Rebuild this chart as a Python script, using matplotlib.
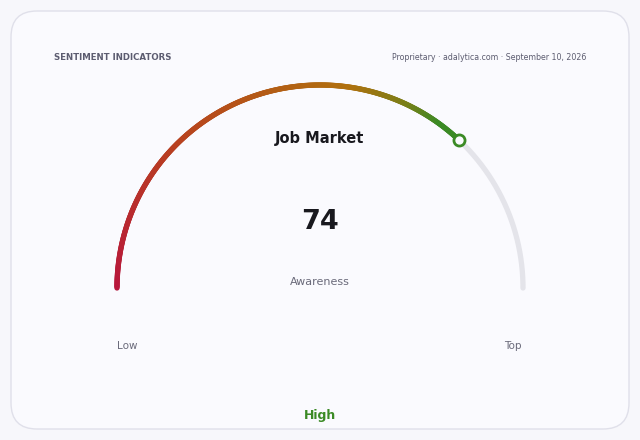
import numpy as np
import matplotlib
matplotlib.use("Agg")
import matplotlib.pyplot as plt
from matplotlib.collections import LineCollection
from matplotlib.colors import LinearSegmentedColormap
from matplotlib.patches import FancyBboxPatch

plt.rcParams["font.family"] = ["DejaVu Sans"]

# gauge data
title = "Job Market"
metric = "Awareness"
value = 74
v_min, v_max = 0, 100
end_labels = ["Low", "Top"]
band_label = "High"
header_left = "SENTIMENT INDICATORS"
header_right = "Proprietary · adalytica.com · September 10, 2026"

# layout in pixels
W, H = 640, 440
cx, cy, r = 320, 288, 203

fig = plt.figure(figsize=(W / 100, H / 100), dpi=100)
fig.patch.set_facecolor("#f7f7fb")
ax = fig.add_axes([0, 0, 1, 1])
ax.set_xlim(0, W)
ax.set_ylim(H, 0)
ax.axis("off")

card = FancyBboxPatch((11, 11), 618, 418, boxstyle="round,pad=0,rounding_size=26",
                      facecolor="#fafafe", edgecolor="#e0e0ea", linewidth=1.0)
ax.add_patch(card)

def angle_of(v):
    return np.pi * (1 - (v - v_min) / (v_max - v_min))

# background track
t = np.linspace(angle_of(v_min), angle_of(v_max), 300)
ax.plot(cx + r * np.cos(t), cy - r * np.sin(t), color="#e4e4ea",
        linewidth=3.8, solid_capstyle="round", zorder=2)

# value arc with gradient
cmap = LinearSegmentedColormap.from_list(
    "sent", [(0.0, "#b8163c"), (0.35, "#b8421f"), (0.74, "#b0700e"),
             (0.87, "#7a7f18"), (0.95, "#3b8a25"), (1.0, "#3b8a25")])
vals = np.linspace(v_min, value, 400)
ang = angle_of(vals)
xs, ys = cx + r * np.cos(ang), cy - r * np.sin(ang)
pts = np.column_stack([xs, ys]).reshape(-1, 1, 2)
segs = np.concatenate([pts[:-1], pts[1:]], axis=1)
lc = LineCollection(segs, colors=cmap(np.linspace(0, 1, len(segs))),
                    linewidth=3.8, capstyle="round", zorder=3)
ax.add_collection(lc)

ax.plot(xs[-1], ys[-1], "o", markersize=8, markerfacecolor="#fafafe",
        markeredgecolor="#3b8a25", markeredgewidth=2, zorder=4)

# texts
ax.text(54, 58, header_left, fontsize=6.2, fontweight="bold", color="#5c5c70",
        ha="left", va="center")
ax.text(586, 58, header_right, fontsize=5.7, color="#5c5c70", ha="right", va="center")
ax.text(cx, 138, title, fontsize=10.5, fontweight="bold", color="#18181e",
        ha="center", va="center")
ax.text(cx, 222, str(value), fontsize=19.5, fontweight="bold", color="#18181e",
        ha="center", va="center")
ax.text(cx, 282, metric, fontsize=8, color="#6a6a7a", ha="center", va="center")
ax.text(127, 346, end_labels[0], fontsize=7.5, color="#6a6a7a", ha="center", va="center")
ax.text(513, 346, end_labels[1], fontsize=7.5, color="#6a6a7a", ha="center", va="center")
ax.text(cx, 415, band_label, fontsize=9, fontweight="bold", color="#3b8a25",
        ha="center", va="center")

fig.savefig("out.png", dpi=100, facecolor=fig.get_facecolor())
